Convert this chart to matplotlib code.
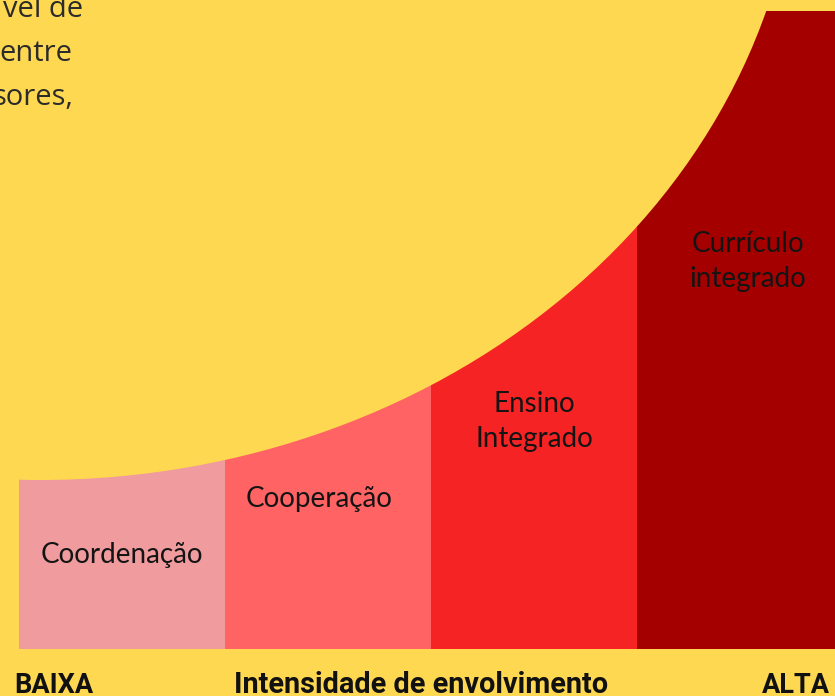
import matplotlib
matplotlib.use("Agg")
import matplotlib.pyplot as plt
from matplotlib.patches import Ellipse

# ---- data ----
categories = ["Coordenação", "Cooperação", "Ensino\nIntegrado", "Currículo\nintegrado"]
bar_colors = ["#F09B9D", "#FF6363", "#F52323", "#A50000"]
axis_low = "BAIXA"
axis_title = "Intensidade de envolvimento"
axis_high = "ALTA"
note_lines = ["vel de", "entre", "sores,"]   # visible part of the (cut-off) note

YELLOW = "#FFD851"
W, H = 835, 696
fig = plt.figure(figsize=(W / 100, H / 100), dpi=100, facecolor=YELLOW)
ax = fig.add_axes([0, 0, 1, 1])
ax.set_facecolor(YELLOW)
ax.axis("off")

# x in category units (206 px per column, first column starts at 19 px)
col_px = 206.0
x0_px = 19.0
ax.set_xlim(-x0_px / col_px, (W - x0_px) / col_px)
# y in pixels above the column base (base at 649 px from top)
base_px = 649.0
ax.set_ylim(-(H - base_px), base_px)

bar_height = base_px - 11.0
xs = list(range(len(categories)))
ax.bar(xs, [bar_height] * len(categories), width=1.0, align="edge",
       color=bar_colors, linewidth=0, zorder=1)

# big yellow ellipse that shapes the rising curve
ell = Ellipse(((40 - x0_px) / col_px, base_px - (-185.0)),
              width=1520.0 / col_px, height=1330.0,
              facecolor=YELLOW, edgecolor="none", zorder=2)
ax.add_patch(ell)

font = "Lato"
# (x centre in category units, first baseline in px from top)
label_pos = [(0.5, 563), (1.456, 507), (2.5, 412), (3.54, 252)]
line_gap = 35
for cat, (lx, by) in zip(categories, label_pos):
    for k, line in enumerate(cat.split("\n")):
        ax.text(lx, base_px - (by + k * line_gap), line, ha="center", va="baseline",
                fontsize=20, family=font, color="#141414", zorder=3)

def fx(px):
    return px / W

def fy(py):
    return 1 - py / H

# top-left note (only its right-hand part is visible)
note_right = [83, 72, 73]
note_base = [17, 61, 105]
for line, rx, by in zip(note_lines, note_right, note_base):
    fig.text(fx(rx), fy(by), line, ha="right", va="baseline", fontsize=21,
             family="Open Sans", color="#2b2b2b")

bold = dict(family="Roboto", weight="bold", color="#111111", va="baseline")
fig.text(fx(14), fy(693), axis_low, ha="left", fontsize=19.5, **bold)
fig.text(fx(234), fy(693), axis_title, ha="left", fontsize=20.8, **bold)
fig.text(fx(830), fy(693), axis_high, ha="right", fontsize=19.5, **bold)

fig.savefig("out.png", dpi=100, facecolor=YELLOW)
